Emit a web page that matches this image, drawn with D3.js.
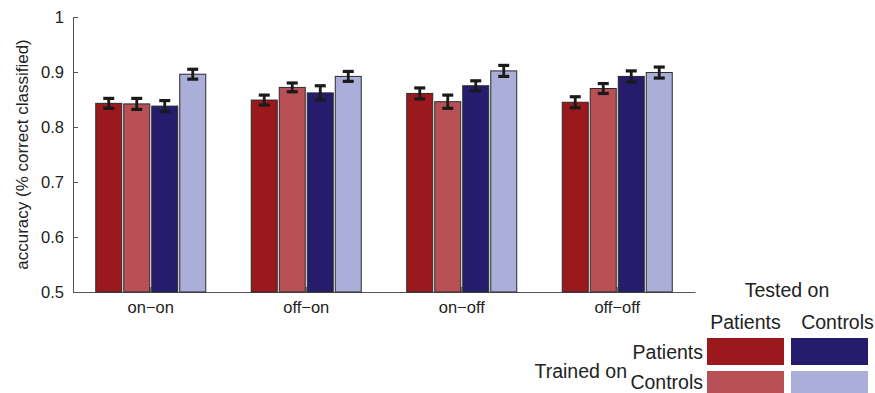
<!DOCTYPE html>
<html>
<head>
<meta charset="utf-8">
<script src="https://cdn.jsdelivr.net/npm/d3@7"></script>
<style>
  html, body { margin: 0; padding: 0; background: #fff; }
  svg { display: block; font-family: "Liberation Sans", Arial, Helvetica, sans-serif; }
</style>
</head>
<body>
<svg id="chart" width="875" height="393"></svg>
<script>
// ---- data ----
const categories = ["on\u2212on", "off\u2212on", "on\u2212off", "off\u2212off"];
const seriesNames = ["Trained Patients / Tested Patients", "Trained Controls / Tested Patients",
                     "Trained Patients / Tested Controls", "Trained Controls / Tested Controls"];
const seriesColors = ["#9b181d", "#b95055", "#251c6e", "#abaed8"];
// values per series, one per category
const ppValues = [0.843, 0.849, 0.861, 0.845];
const cpValues = [0.842, 0.872, 0.846, 0.870];
const pcValues = [0.838, 0.862, 0.875, 0.892];
const ccValues = [0.896, 0.892, 0.902, 0.899];
const ppErr = [0.009, 0.009, 0.010, 0.010];
const cpErr = [0.010, 0.008, 0.012, 0.009];
const pcErr = [0.010, 0.013, 0.009, 0.010];
const ccErr = [0.009, 0.009, 0.010, 0.010];
const yTicks = [0.5, 0.6, 0.7, 0.8, 0.9, 1];
const yTickLabels = ["0.5", "0.6", "0.7", "0.8", "0.9", "1"];
const legendTitle = "Tested on";
const legendCols = ["Patients", "Controls"];
const legendRows = ["Patients", "Controls"];
const legendRowTitle = "Trained on";

const values = [ppValues, cpValues, pcValues, ccValues];
const errs = [ppErr, cpErr, pcErr, ccErr];

(function () {
const svg = d3.select("#chart");
const mLeft = 73, mRight = 695, mTop = 17, mBottom = 292;

const x0 = d3.scaleBand().domain(categories).range([mLeft, mRight]).padding(0);
const y = d3.scaleLinear().domain([0.5, 1]).range([mBottom, mTop]);
const x1 = d3.scaleBand().domain(d3.range(4)).range([-55, 55]).paddingInner(2 / 28).paddingOuter(0);

// y axis
const yAxis = d3.axisLeft(y).tickValues(yTicks).tickFormat((d, i) => yTickLabels[i])
  .tickSizeInner(-5).tickSizeOuter(0).tickPadding(9);
const gy = svg.append("g").attr("transform", `translate(${mLeft},0)`).call(yAxis);
gy.select(".domain").attr("stroke", "#555").attr("stroke-width", 1);
gy.selectAll(".tick line").attr("stroke", "#555");
gy.selectAll(".tick text").attr("font-size", 16.5).attr("fill", "#222")
  .attr("font-family", '"Liberation Sans", Arial, sans-serif');

// x axis
const xAxis = d3.axisBottom(x0).tickSizeInner(-5).tickSizeOuter(0).tickPadding(9);
const gx = svg.append("g").attr("transform", `translate(0,${mBottom})`).call(xAxis);
gx.select(".domain").attr("stroke", "#555").attr("stroke-width", 1.2);
gx.selectAll(".tick line").attr("stroke", "#555");
gx.selectAll(".tick text").attr("font-size", 16.5).attr("fill", "#222")
  .attr("font-family", '"Liberation Sans", Arial, sans-serif');

// y label
svg.append("text")
  .attr("transform", `translate(28,${(mTop + mBottom) / 2}) rotate(-90)`)
  .attr("text-anchor", "middle")
  .attr("font-size", 17)
  .attr("fill", "#222")
  .text("accuracy (% correct classified)");

// bars
const groups = svg.append("g").selectAll("g").data(categories).join("g")
  .attr("transform", d => `translate(${x0(d) + x0.bandwidth() / 2},0)`);

groups.each(function (cat, ci) {
  const g = d3.select(this);
  d3.range(4).forEach(si => {
    const v = values[si][ci];
    g.append("rect")
      .attr("x", x1(si))
      .attr("y", y(v))
      .attr("width", x1.bandwidth())
      .attr("height", y(0.5) - y(v))
      .attr("fill", seriesColors[si])
      .attr("stroke", "#2a2a2a")
      .attr("stroke-width", 1);
  });
  d3.range(4).forEach(si => {
    const v = values[si][ci], e = errs[si][ci];
    const cx = x1(si) + x1.bandwidth() / 2;
    g.append("line")
      .attr("x1", cx).attr("x2", cx)
      .attr("y1", y(v + e)).attr("y2", y(v - e))
      .attr("stroke", "#1a1a1a").attr("stroke-width", 2.8);
    [v + e, v - e].forEach(t => {
      g.append("line")
        .attr("x1", cx - 5.5).attr("x2", cx + 5.5)
        .attr("y1", y(t)).attr("y2", y(t))
        .attr("stroke", "#1a1a1a").attr("stroke-width", 3.2);
    });
  });
});

// legend
const leg = svg.append("g").attr("fill", "#222").attr("font-size", 19.5);
const colX = [707, 791], swW = 77;
const rowY = [338, 371], swH = 27;
leg.append("text").attr("x", 787).attr("y", 297).attr("text-anchor", "middle").text(legendTitle);
legendCols.forEach((c, i) => {
  leg.append("text").attr("x", colX[i] + swW / 2 + (i === 1 ? 8 : 0)).attr("y", 329)
    .attr("text-anchor", "middle").text(c);
});
legendRows.forEach((r, i) => {
  leg.append("text").attr("x", 703).attr("y", i === 0 ? 359 : 389)
    .attr("text-anchor", "end").text(r);
});
leg.append("text").attr("x", 627).attr("y", 378).attr("text-anchor", "end").text(legendRowTitle);
// swatch order: [row][col] -> series index
const swatchIndex = [[0, 2], [1, 3]];
legendRows.forEach((r, ri) => {
  legendCols.forEach((c, ci) => {
    leg.append("rect")
      .attr("x", colX[ci]).attr("y", rowY[ri])
      .attr("width", swW).attr("height", swH)
      .attr("fill", seriesColors[swatchIndex[ri][ci]]);
  });
});
})();
</script>
</body>
</html>
